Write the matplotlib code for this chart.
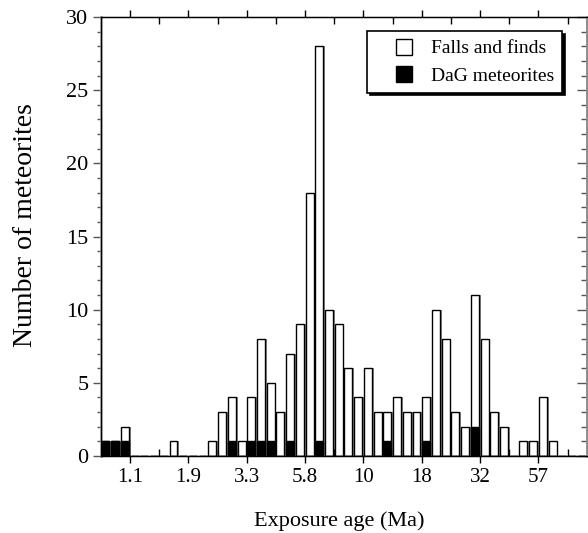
from __future__ import annotations

import matplotlib

matplotlib.use("Agg")

import matplotlib.pyplot as plt
import numpy as np
from matplotlib.legend_handler import HandlerPatch
from matplotlib.patches import Patch, Rectangle
from matplotlib.ticker import FixedLocator, MultipleLocator


# counts per log-age bin (50 bins, 6 bins between labelled ticks)
FALLS_AND_FINDS = [
    1, 1, 2, 0, 0, 0, 0, 1, 0, 0,
    0, 1, 3, 4, 1, 4, 8, 5, 3, 7,
    9, 18, 28, 10, 9, 6, 4, 6, 3, 3,
    4, 3, 3, 4, 10, 8, 3, 2, 11, 8,
    3, 2, 0, 1, 1, 4, 1, 0, 0, 0,
]
DAG_METEORITES = [
    1, 1, 1, 0, 0, 0, 0, 0, 0, 0,
    0, 0, 0, 1, 0, 1, 1, 1, 0, 1,
    0, 0, 1, 0, 0, 0, 0, 0, 0, 1,
    0, 0, 0, 1, 0, 0, 0, 0, 2, 0,
    0, 0, 0, 0, 0, 0, 0, 0, 0, 0,
]
TICK_LABELS = ["1.1", "1.9", "3.3", "5.8", "10", "18", "32", "57"]
TICK_BINS = [3, 9, 15, 21, 27, 33, 39, 45]
MINOR_BINS = [6, 12, 18, 24, 30, 36, 42, 48]

BAR_WIDTH = 0.82
SHADOW = "#8a8a8a"

plt.rcParams["font.family"] = ["Liberation Serif", "DejaVu Serif"]


def square_marker(legend, orig_handle, xdescent, ydescent, width, height, fontsize):
    # square pushed to the right end of the handle box
    size = 0.82 * fontsize
    return Rectangle((-xdescent + width - size, -ydescent + (height - size) / 2), size, size)


def draw_bars(ax: plt.Axes) -> None:
    x = np.arange(len(FALLS_AND_FINDS))
    falls = np.array(FALLS_AND_FINDS)
    dag = np.array(DAG_METEORITES)

    # grey shadow to the right of every bar
    ax.bar(x + 0.05 + (1 - BAR_WIDTH), falls, width=BAR_WIDTH, align="edge",
           color=SHADOW, edgecolor="none", zorder=1)
    ax.bar(x + 0.05, falls, width=BAR_WIDTH, align="edge", color="white",
           edgecolor="black", linewidth=1.0, zorder=2)
    ax.bar(x + 0.05, dag, width=BAR_WIDTH, align="edge", color="black",
           edgecolor="black", linewidth=1.0, zorder=3)


def style_axes(ax: plt.Axes) -> None:
    ax.set_xlim(0, len(FALLS_AND_FINDS))
    ax.set_ylim(0, 30)

    ax.xaxis.set_major_locator(FixedLocator(TICK_BINS))
    ax.xaxis.set_minor_locator(FixedLocator(MINOR_BINS))
    ax.set_xticklabels(TICK_LABELS)
    ax.tick_params(axis="x", which="major", direction="out", length=5, width=1,
                   top=True, bottom=True, labelsize=15, pad=4)
    ax.tick_params(axis="x", which="minor", direction="in", length=5, width=1,
                   top=True, bottom=True)

    ax.yaxis.set_major_locator(MultipleLocator(5))
    ax.yaxis.set_minor_locator(MultipleLocator(1))
    ax.tick_params(axis="y", which="major", direction="out", length=6, width=1,
                   color="#555555", labelsize=16, pad=3)
    ax.tick_params(axis="y", which="minor", direction="out", length=3, width=1,
                   color="#555555")

    for side in ["left", "right"]:
        ax.spines[side].set_color("#8c8c8c")
        ax.spines[side].set_linewidth(1.8)
    for side in ["top", "bottom"]:
        ax.spines[side].set_color("black")
        ax.spines[side].set_linewidth(1.0)

    # right side ticks point inwards
    right = ax.twinx()
    right.set_ylim(ax.get_ylim())
    right.yaxis.set_major_locator(MultipleLocator(5))
    right.yaxis.set_minor_locator(MultipleLocator(1))
    right.tick_params(axis="y", which="major", direction="in", length=7, width=1,
                      color="#555555", labelright=False)
    right.tick_params(axis="y", which="minor", direction="in", length=4, width=1,
                      color="#555555")
    right.spines["right"].set_color("#8c8c8c")
    right.spines["right"].set_linewidth(1.8)

    ax.set_xlabel("Exposure age (Ma)", fontsize=16)
    ax.xaxis.set_label_coords(0.49, -0.126)
    ax.set_ylabel("Number of meteorites", fontsize=20)
    ax.yaxis.set_label_coords(-0.13, 0.525)


def add_legend(fig: plt.Figure, ax: plt.Axes) -> None:
    handles = [
        Patch(facecolor="white", edgecolor="black", linewidth=1.0),
        Patch(facecolor="black", edgecolor="black", linewidth=1.0),
    ]
    leg = ax.legend(
        handles,
        ["Falls and finds", "DaG meteorites"],
        handler_map={Patch: HandlerPatch(patch_func=square_marker)},
        loc="upper right",
        bbox_to_anchor=(562 / 588, 1 - 31 / 533),
        bbox_transform=fig.transFigure,
        borderaxespad=0,
        fontsize=14,
        frameon=True,
        fancybox=False,
        edgecolor="black",
        framealpha=1,
        shadow={"color": "black", "alpha": 1},
        handlelength=1.9,
        handleheight=0.85,
        handletextpad=0.98,
        labelspacing=0.47,
        borderpad=0.4,
    )
    leg.get_frame().set_linewidth(1.2)


def main() -> None:
    fig = plt.figure(figsize=(5.88, 5.33), dpi=100)
    ax = fig.add_axes([101 / 588, 1 - 456 / 533, 486 / 588, 439 / 533])
    draw_bars(ax)
    style_axes(ax)
    add_legend(fig, ax)
    fig.savefig("out.png", dpi=100, facecolor="white")
    plt.close(fig)


if __name__ == "__main__":
    main()
